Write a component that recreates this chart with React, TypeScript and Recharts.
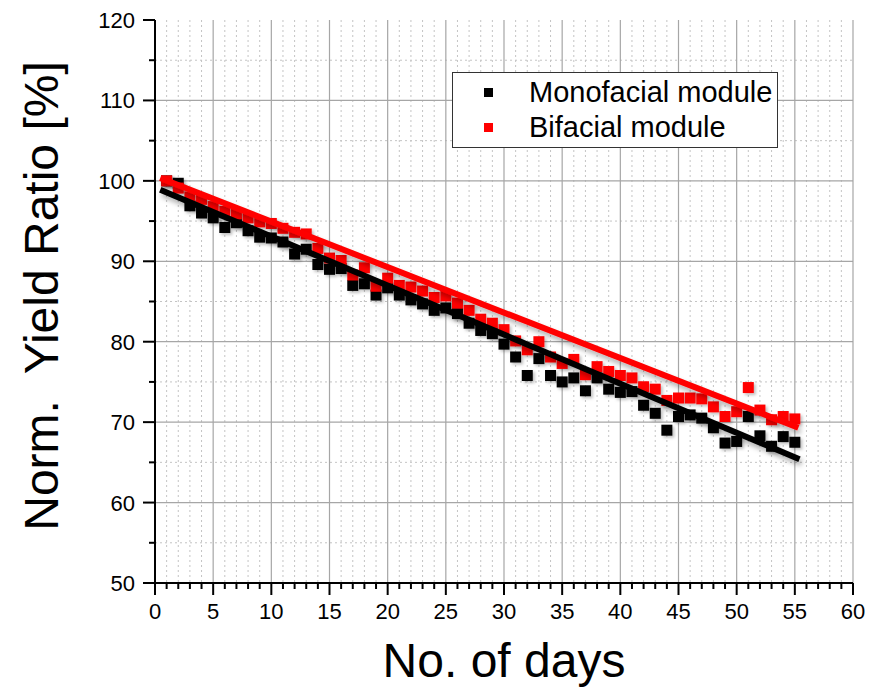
import React from 'react';
import { ScatterChart, Scatter, XAxis, YAxis, CartesianGrid, Label } from 'recharts';

const days = [
  1, 2, 3, 4, 5, 6, 7, 8, 9, 10, 11, 12, 13, 14, 15, 16, 17, 18, 19, 20,
  21, 22, 23, 24, 25, 26, 27, 28, 29, 30, 31, 32, 33, 34, 35, 36, 37, 38, 39, 40,
  41, 42, 43, 44, 45, 46, 47, 48, 49, 50, 51, 52, 53, 54, 55,
];

const monofacial = [
  100.0, 99.7, 96.9, 96.0, 95.4, 94.2, 94.8, 93.8, 93.0, 92.9,
  92.4, 90.9, 91.5, 89.6, 89.0, 89.1, 87.0, 87.2, 85.8, 86.7,
  85.8, 85.2, 84.7, 83.9, 84.2, 83.5, 82.3, 81.4, 81.0, 79.7,
  78.1, 75.8, 77.9, 75.8, 75.0, 75.5, 73.9, 75.5, 74.1, 73.7,
  73.8, 72.1, 71.1, 69.0, 70.7, 70.9, 70.5, 69.3, 67.4, 67.6,
  70.7, 68.3, 67.0, 68.2, 67.5,
];

const bifacial = [
  100.0, 99.1, 98.0, 97.7, 96.8, 96.2, 95.9, 95.4, 94.9, 94.7,
  94.1, 93.6, 93.4, 91.6, 90.4, 90.1, 88.3, 89.2, 86.9, 87.9,
  87.0, 86.8, 86.3, 85.5, 85.7, 84.8, 83.9, 82.8, 82.3, 81.5,
  80.1, 79.0, 80.0, 78.1, 77.3, 77.8, 75.9, 76.9, 76.3, 75.8,
  75.5, 74.4, 74.1, 72.7, 73.0, 73.0, 72.9, 71.9, 70.7, 71.3,
  74.3, 71.5, 70.3, 70.7, 70.4,
];

// linear fit end points (day, value)
const monoFitDays = [0.45, 55.4];
const monoFitValues = [98.9, 65.4];
const biFitDays = [0.45, 55.3];
const biFitValues = [100.35, 69.3];

const X_DOMAIN = [0, 60];
const Y_DOMAIN = [50, 120];
const xMajorTicks = [0, 5, 10, 15, 20, 25, 30, 35, 40, 45, 50, 55, 60];
const xAllTicks = Array.from({ length: 61 }, (_, i) => i);
const yMajorTicks = [50, 60, 70, 80, 90, 100, 110, 120];
const yAllTicks = [50, 55, 60, 65, 70, 75, 80, 85, 90, 95, 100, 105, 110, 115, 120];
const xMinorGrid = xAllTicks.filter((v) => v % 5 !== 0);
const xMajorGrid = [5, 10, 15, 20, 25, 30, 35, 40, 45, 50, 55, 60];
const yMinorGrid = [55, 65, 75, 85, 95, 105, 115];
const yMajorGrid = [60, 70, 80, 90, 100, 110];

const seriesNames = ['Monofacial module', 'Bifacial module'];
const xTitle = 'No. of days';
const yTitle = 'Norm.  Yield Ratio [%]';

const monoData = days.map((d, i) => ({ day: d, value: monofacial[i] }));
const biData = days.map((d, i) => ({ day: d, value: bifacial[i] }));
const monoFit = monoFitDays.map((d, i) => ({ day: d, value: monoFitValues[i] }));
const biFit = biFitDays.map((d, i) => ({ day: d, value: biFitValues[i] }));

const FONT = '"Liberation Sans", Arial, sans-serif';

const xPositions = (vals: number[]) => (props: any) => {
  const axis = props && props.xAxis;
  if (axis && typeof axis.scale === 'function') return vals.map((v) => axis.scale(v));
  const off = props.offset;
  return vals.map((v) => off.left + (off.width * (v - X_DOMAIN[0])) / (X_DOMAIN[1] - X_DOMAIN[0]));
};
const yPositions = (vals: number[]) => (props: any) => {
  const axis = props && props.yAxis;
  if (axis && typeof axis.scale === 'function') return vals.map((v) => axis.scale(v));
  const off = props.offset;
  return vals.map((v) => off.top + off.height - (off.height * (v - Y_DOMAIN[0])) / (Y_DOMAIN[1] - Y_DOMAIN[0]));
};

const XTick = (props: any) => {
  const { x, y, payload } = props;
  const v = payload.value;
  const major = xMajorTicks.includes(v);
  return (
    <g>
      <line x1={x} x2={x} y1={y} y2={y + (major ? 12 : 6)} stroke="#000" strokeWidth={2} />
      {major && (
        <text x={x} y={y + 36} textAnchor="middle" fontSize={22} fontFamily={FONT} fill="#000">
          {v}
        </text>
      )}
    </g>
  );
};

const YTick = (props: any) => {
  const { x, y, payload } = props;
  const v = payload.value;
  const major = yMajorTicks.includes(v);
  return (
    <g>
      <line x1={x - (major ? 12 : 6)} x2={x} y1={y} y2={y} stroke="#000" strokeWidth={2} />
      {major && (
        <text x={x - 20} y={y + 8} textAnchor="end" fontSize={22} fontFamily={FONT} fill="#000">
          {v}
        </text>
      )}
    </g>
  );
};

const square = (color: string, size: number) => (props: any) => {
  const { cx, cy } = props;
  if (cx == null || cy == null) return <g />;
  return (
    <rect
      x={cx - size / 2}
      y={cy - size / 2}
      width={size}
      height={size}
      fill={color}
      filter="url(#markShadow)"
    />
  );
};

const noShape = () => <g />;

export default function App() {
  return (
    <div style={{ position: 'absolute', left: 0, top: 0, width: 880, height: 690, background: '#fff' }}>
      <svg width={0} height={0} style={{ position: 'absolute' }}>
        <defs>
          <filter id="markShadow" x="-50%" y="-50%" width="200%" height="200%">
            <feDropShadow dx={2} dy={2} stdDeviation={1.5} floodColor="#000" floodOpacity={0.25} />
          </filter>
          <filter id="lineShadow" x="-10%" y="-20%" width="120%" height="140%">
            <feDropShadow dx={2} dy={4} stdDeviation={2.5} floodColor="#000" floodOpacity={0.3} />
          </filter>
        </defs>
      </svg>
      <ScatterChart
        width={880}
        height={690}
        margin={{ top: 20, right: 27, bottom: 0, left: 0 }}
      >
        <CartesianGrid
          stroke="#c4c4c4"
          strokeDasharray="2 3"
          strokeWidth={1}
          verticalCoordinatesGenerator={xPositions(xMinorGrid)}
          horizontalCoordinatesGenerator={yPositions(yMinorGrid)}
        />
        <CartesianGrid
          stroke="#a6a6a6"
          strokeWidth={1.2}
          verticalCoordinatesGenerator={xPositions(xMajorGrid)}
          horizontalCoordinatesGenerator={yPositions(yMajorGrid)}
        />
        <XAxis
          type="number"
          dataKey="day"
          domain={X_DOMAIN}
          ticks={xAllTicks}
          interval={0}
          height={107}
          tickSize={0}
          tickMargin={0}
          tickLine={false}
          tick={<XTick />}
          axisLine={{ stroke: '#000', strokeWidth: 2 }}
          allowDataOverflow
        >
          <Label
            content={() => (
              <text x={504} y={677} textAnchor="middle" fontSize={48} fontFamily={FONT} fill="#000">
                {xTitle}
              </text>
            )}
          />
        </XAxis>
        <YAxis
          type="number"
          dataKey="value"
          domain={Y_DOMAIN}
          ticks={yAllTicks}
          interval={0}
          width={155}
          tickSize={0}
          tickMargin={0}
          tickLine={false}
          tick={<YTick />}
          axisLine={{ stroke: '#000', strokeWidth: 2 }}
          allowDataOverflow
        >
          <Label
            content={() => (
              <text
                x={58}
                y={296}
                transform="rotate(-90 58 296)"
                textAnchor="middle"
                fontSize={48}
                fontFamily={FONT}
                fill="#000"
                style={{ whiteSpace: 'pre' }}
              >
                {yTitle}
              </text>
            )}
          />
        </YAxis>
        <Scatter name={seriesNames[0]} data={monoData} shape={square('#000000', 11)} isAnimationActive={false} />
        <Scatter name={seriesNames[1]} data={biData} shape={square('#ff0000', 11)} isAnimationActive={false} />
        <Scatter
          data={biFit}
          shape={noShape}
          line={{ stroke: '#ff0000', strokeWidth: 6, filter: 'url(#lineShadow)' }}
          lineType="joint"
          isAnimationActive={false}
        />
        <Scatter
          data={monoFit}
          shape={noShape}
          line={{ stroke: '#000000', strokeWidth: 6, filter: 'url(#lineShadow)' }}
          lineType="joint"
          isAnimationActive={false}
        />
      </ScatterChart>
      <div
        style={{
          position: 'absolute',
          left: 452,
          top: 72,
          width: 326,
          height: 76,
          border: '1px solid #333',
          background: '#fff',
          boxSizing: 'border-box',
          fontFamily: FONT,
          fontSize: 29,
          color: '#000',
        }}
      >
        {seriesNames.map((name, i) => (
          <div
            key={name}
            style={{ position: 'absolute', left: 0, top: i === 0 ? 2 : 37, height: 34, display: 'flex', alignItems: 'center', whiteSpace: 'nowrap' }}
          >
            <span
              style={{
                display: 'inline-block',
                width: 9,
                height: 9,
                marginLeft: 31,
                background: i === 0 ? '#000' : '#ff0000',
              }}
            />
            <span style={{ marginLeft: 36 }}>{name}</span>
          </div>
        ))}
      </div>
    </div>
  );
}
